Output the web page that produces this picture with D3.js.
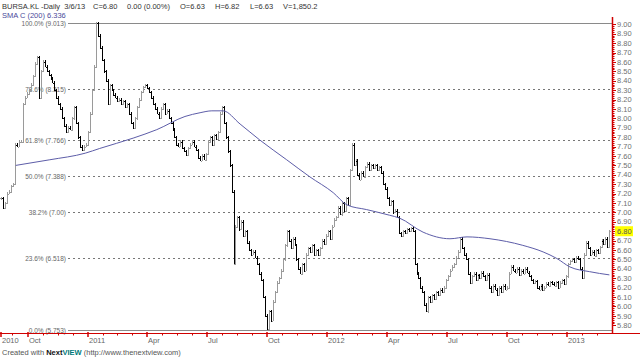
<!DOCTYPE html>
<html><head><meta charset="utf-8">
<script src="https://cdn.jsdelivr.net/npm/d3@7"></script>
<style>
body{margin:0;background:#fff}
svg{display:block}
text{font-family:"Liberation Sans",Arial,sans-serif;white-space:pre}
</style>
</head><body>
<svg id="chart" width="640" height="357"></svg>
<script>
// ---------------- DATA ----------------
const firstBarDate = "2010-08-22";   // one bar every 3 calendar days
const barStepDays = 3;
const closes = [
 7.15,7.05,7.10,7.20,7.22,7.28,7.30,7.72,7.70,7.75,
 7.75,8.15,8.22,8.26,8.30,8.36,8.45,8.58,8.65,8.22,
 8.50,8.60,8.55,8.50,8.46,8.42,8.38,8.30,8.22,8.15,
 8.10,8.00,7.92,7.85,7.90,7.88,8.00,8.12,7.95,7.80,
 7.70,7.66,7.70,7.72,7.85,8.05,8.30,8.55,9.01,8.88,
 8.75,8.62,8.50,8.40,8.15,8.35,8.30,8.25,8.22,8.18,
 8.20,8.15,8.18,8.12,8.15,8.05,7.95,7.90,8.00,8.12,
 8.20,8.28,8.33,8.35,8.32,8.28,8.22,8.15,8.10,8.05,
 8.00,8.10,8.15,8.05,8.08,8.00,7.95,7.88,7.80,7.72,
 7.70,7.75,7.68,7.65,7.61,7.68,7.72,7.75,7.70,7.66,
 7.58,7.55,7.60,7.56,7.62,7.75,7.80,7.72,7.82,7.78,
 7.85,8.05,8.12,7.95,7.80,7.65,7.50,7.22,6.45,6.85,
 6.95,6.82,6.90,6.75,6.80,6.68,6.60,6.55,6.58,6.52,
 6.45,6.35,6.28,6.10,5.90,5.76,5.95,5.85,6.05,6.15,
 6.25,6.30,6.38,6.50,6.65,6.80,6.70,6.62,6.72,6.65,
 6.50,6.40,6.35,6.45,6.38,6.55,6.62,6.58,6.65,6.55,
 6.60,6.55,6.62,6.70,6.66,6.75,6.80,6.72,6.85,6.92,
 6.95,7.05,6.98,7.10,7.02,7.15,7.08,7.45,7.72,7.50,
 7.55,7.40,7.35,7.42,7.38,7.48,7.52,7.45,7.50,7.47,
 7.50,7.45,7.48,7.42,7.30,7.25,7.15,7.08,7.12,7.00,
 7.02,6.95,6.78,6.75,6.80,6.78,6.82,6.80,6.83,6.80,
 6.45,6.35,6.30,6.20,6.15,6.02,5.95,6.10,6.05,6.12,
 6.08,6.15,6.12,6.18,6.15,6.20,6.28,6.32,6.38,6.42,
 6.45,6.52,6.58,6.72,6.62,6.55,6.50,6.35,6.25,6.32,
 6.35,6.28,6.33,6.30,6.36,6.32,6.28,6.34,6.20,6.15,
 6.22,6.18,6.12,6.20,6.15,6.22,6.18,6.20,6.35,6.42,
 6.38,6.36,6.40,6.33,6.38,6.35,6.40,6.36,6.32,6.28,
 6.25,6.27,6.20,6.18,6.22,6.17,6.20,6.24,6.22,6.26,
 6.24,6.22,6.26,6.20,6.25,6.28,6.24,6.32,6.45,6.48,
 6.50,6.47,6.52,6.50,6.40,6.30,6.55,6.68,6.62,6.55,
 6.58,6.54,6.60,6.57,6.63,6.70,6.66,6.72,6.63,6.80
];
const smaDates = ["2010-09-13","2010-11-04","2010-12-28","2011-01-19","2011-03-11","2011-04-16",
 "2011-05-29","2011-06-21","2011-07-09","2011-07-26","2011-08-21","2011-09-20","2011-10-31",
 "2011-12-05","2012-01-10","2012-01-31","2012-03-01","2012-04-05","2012-04-20","2012-05-26",
 "2012-07-06","2012-08-01","2012-09-05","2012-10-25","2012-11-25","2012-12-16","2013-01-05",
 "2013-02-04","2013-03-06"];
const smaValues = [7.50,7.56,7.63,7.68,7.79,7.88,8.02,8.06,8.08,8.08,7.94,7.77,7.56,
 7.38,7.21,7.08,7.03,6.97,6.94,6.79,6.72,6.74,6.72,6.65,6.58,6.51,6.42,6.37,6.336];
const fibValues = [9.013,8.315,7.766,7.388,7.00,6.518,5.753];
const fibLabels = ["100.0% (9.013)","78.6% (8.315)","61.8% (7.766)","50.0% (7.388)","38.2% (7.00)","23.6% (6.518)","0.0% (5.753)"];
const priceTickLabels = ["5.80","5.90","6.00","6.10","6.20","6.30","6.40","6.50","6.60","6.70","6.80",
 "6.90","7.00","7.10","7.20","7.30","7.40","7.50","7.60","7.70","7.80","7.90","8.00","8.10","8.20",
 "8.30","8.40","8.50","8.60","8.70","8.80","8.90","9.00"];
const timeTickDates = ["2010-08-21","2010-10-01","2011-01-01","2011-04-01","2011-07-01","2011-10-01",
 "2012-01-01","2012-04-01","2012-07-01","2012-10-01","2013-01-01"];
const timeTickLabels = ["2010","Oct","2011","Apr","Jul","Oct","2012","Apr","Jul","Oct","2013"];
const headerFields = ["BURSA.KL -Daily  3/6/13","C=6.80","0.00 (0.00%)","O=6.63","H=6.82","L=6.63","V=1,850.2"];
const smaLabel = "SMA C (200) 6.336";
const lastPrice = 6.80;

// ---------------- LAYOUT ----------------
const headerX = [2,93,127,180,215,250,283];
const svg = d3.select("#chart");
const parse = d3.utcParse("%Y-%m-%d");
const RED = "#d00000";
const AXIS_X = 612, AXIS_Y = 333;

const x = d3.scaleUtc().domain([parse("2010-08-20"), parse("2013-03-10")]).range([0, AXIS_X]);
const y = d3.scaleLinear().domain([5.80, 9.00]).range([325.3, 24.3]);

// Fibonacci levels
const fib = svg.append("g");
fibValues.forEach((v, i) => {
  const yy = Math.round(y(v)) + 0.5;
  const solid = (i === 0 || i === fibValues.length - 1);
  fib.append("line").attr("x1", 68).attr("x2", AXIS_X).attr("y1", yy).attr("y2", yy)
    .attr("stroke", solid ? "#8a8a8a" : "#777").attr("stroke-width", 1)
    .attr("stroke-dasharray", solid ? null : "2,3");
  fib.append("text").attr("x", 66).attr("y", yy).attr("dy", "0.35em")
    .attr("text-anchor", "end").attr("font-size", 6.5).attr("fill", "#666").text(fibLabels[i]);
});

// OHLC bars (open = previous close)
const start = parse(firstBarDate);
const bars = closes.map((c, i) => ({
  date: d3.utcDay.offset(start, i * barStepDays),
  open: i ? closes[i - 1] : c,
  close: c
}));
const gBars = svg.append("g").attr("shape-rendering", "crispEdges");
bars.forEach(b => {
  const px = Math.round(x(b.date));
  const yo = y(b.open), yc = y(b.close);
  const top = Math.min(yo, yc), bot = Math.max(yo, yc);
  const col = b.close < b.open ? "#000" : "#9a9a9a";
  gBars.append("rect").attr("x", px).attr("y", Math.floor(top) - 1)
    .attr("width", 1).attr("height", Math.max(3, Math.ceil(bot - top) + 2)).attr("fill", col);
  gBars.append("rect").attr("x", px - 1).attr("y", Math.round(yo)).attr("width", 1).attr("height", 1).attr("fill", col);
  gBars.append("rect").attr("x", px + 1).attr("y", Math.round(yc)).attr("width", 1).attr("height", 1).attr("fill", col);
});

// SMA line
const sma = smaDates.map((d, i) => ({date: parse(d), v: smaValues[i]}));
svg.append("path").datum(sma)
  .attr("d", d3.line().x(d => x(d.date)).y(d => y(d.v)).curve(d3.curveMonotoneX))
  .attr("fill", "none").attr("stroke", "#5d5da8").attr("stroke-width", 1);

// Right price axis
const gR = svg.append("g");
gR.append("line").attr("x1", AXIS_X + 0.5).attr("x2", AXIS_X + 0.5).attr("y1", 17).attr("y2", AXIS_Y)
  .attr("stroke", RED).attr("stroke-width", 1.5);
const minorPrices = d3.range(0, 161).map(k => 5.80 + k * 0.02);
minorPrices.forEach((p, k) => {
  const yy = Math.round(y(p)) + 0.5;
  gR.append("line").attr("x1", AXIS_X).attr("x2", AXIS_X + (k % 5 === 0 ? 4 : 2.5))
    .attr("y1", yy).attr("y2", yy).attr("stroke", RED).attr("stroke-width", 1);
});
priceTickLabels.forEach(t => {
  gR.append("text").attr("x", 617).attr("y", y(+t)).attr("dy", "0.35em")
    .attr("font-size", 7.5).attr("fill", "#707070").text(t);
});
// last price marker
const lp = y(lastPrice);
gR.append("rect").attr("x", 615).attr("y", lp - 5).attr("width", 18).attr("height", 10).attr("fill", "#ffff00");
gR.append("text").attr("x", 617).attr("y", lp).attr("dy", "0.35em")
  .attr("font-size", 7.5).attr("fill", "#555").text(lastPrice.toFixed(2));

// Bottom time axis
const gB = svg.append("g");
gB.append("line").attr("x1", 0).attr("x2", 640).attr("y1", AXIS_Y + 0.5).attr("y2", AXIS_Y + 0.5)
  .attr("stroke", RED).attr("stroke-width", 1);
const tickDates = timeTickDates.map(parse);
const quarterBounds = [parse("2010-07-01")].concat(tickDates.slice(1), [parse("2013-04-01")]);
for (let q = 0; q < quarterBounds.length - 1; q++) {
  const a = x(quarterBounds[q]), b = x(quarterBounds[q + 1]);
  for (let k = 1; k < 4; k++) {
    const xx = Math.round(a + (b - a) * k / 4) + 0.5;
    if (xx < 1 || xx > AXIS_X) continue;
    gB.append("line").attr("x1", xx).attr("x2", xx).attr("y1", AXIS_Y).attr("y2", AXIS_Y + 2.5)
      .attr("stroke", RED).attr("stroke-width", 1);
  }
}
tickDates.forEach((d, i) => {
  const xx = Math.max(1, Math.round(x(d)));
  gB.append("line").attr("x1", xx).attr("x2", xx).attr("y1", AXIS_Y - 1).attr("y2", AXIS_Y + 4)
    .attr("stroke", RED).attr("stroke-width", 1.5);
  gB.append("text").attr("x", xx + 1).attr("y", 343).attr("font-size", 7.5).attr("fill", "#666")
    .text(timeTickLabels[i]);
});

// Header
headerFields.forEach((t, i) => {
  svg.append("text").attr("x", headerX[i]).attr("y", 9).attr("font-size", 7.5).attr("fill", "#333").text(t);
});
svg.append("text").attr("x", 2).attr("y", 18).attr("font-size", 7.5).attr("fill", "#4a4a9a").text(smaLabel);

// Footer
const ft = svg.append("text").attr("x", 2).attr("y", 355).attr("font-size", 7.5).attr("fill", "#555");
ft.append("tspan").text("Created with ");
ft.append("tspan").attr("font-weight", "bold").attr("fill", "#111").text("Next");
ft.append("tspan").attr("font-weight", "bold").attr("fill", "#007a7a").text("VIEW");
ft.append("tspan").text(" (http://www.thenextview.com)");
</script>
</body></html>
